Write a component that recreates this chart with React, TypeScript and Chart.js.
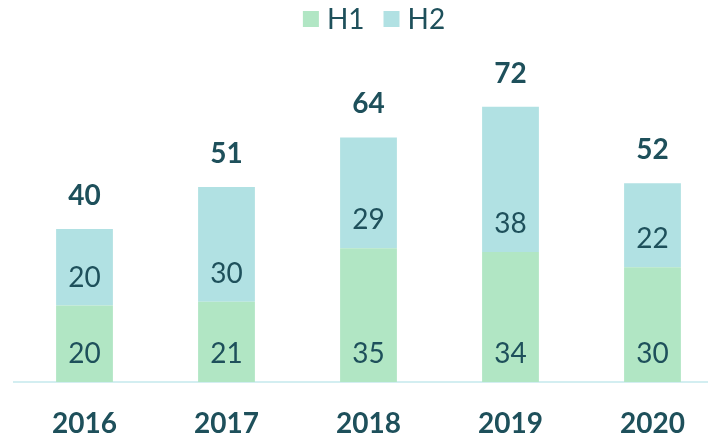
import React, { useEffect, useRef } from "react";
import { Chart, registerables } from "chart.js";

Chart.register(...registerables);

const categories = ["2016", "2017", "2018", "2019", "2020"];
const h1Values = [20, 21, 35, 34, 30];
const h2Values = [20, 30, 29, 38, 22];
const seriesNames = ["H1", "H2"];

const GREEN = "#b1e6c4";
const CYAN = "#b1e1e3";
const TEXT = "#1e505b";
const FONT = "Lato, 'Open Sans', sans-serif";

const labelPlugin = {
  id: "customLabels",
  afterDatasetsDraw(chart: any) {
    const ctx = chart.ctx;
    ctx.save();
    ctx.fillStyle = TEXT;
    ctx.textAlign = "center";
    ctx.textBaseline = "middle";
    ctx.font = `400 28px ${FONT}`;
    chart.data.datasets.forEach((ds: any, di: number) => {
      const meta = chart.getDatasetMeta(di);
      meta.data.forEach((bar: any, i: number) => {
        const p = bar.getProps(["x", "base"], true);
        ctx.fillText(String(ds.data[i]), p.x, p.base - 28);
      });
    });
    ctx.font = `700 28px ${FONT}`;
    const topMeta = chart.getDatasetMeta(chart.data.datasets.length - 1);
    topMeta.data.forEach((bar: any, i: number) => {
      const total = chart.data.datasets.reduce((s: number, d: any) => s + d.data[i], 0);
      ctx.fillText(String(total), bar.x, bar.y - 33);
    });
    // legend
    ctx.font = `400 28px ${FONT}`;
    ctx.textAlign = "left";
    const box = 16, gap = 8, spacing = 19;
    const items = chart.data.datasets.map((d: any) => ({
      label: d.label,
      color: d.backgroundColor,
      w: ctx.measureText(d.label).width,
    }));
    const totalW = items.reduce((s: number, it: any) => s + box + gap + it.w, 0) + spacing * (items.length - 1);
    let x = 374 - totalW / 2;
    items.forEach((it: any) => {
      ctx.fillStyle = it.color;
      ctx.fillRect(x, 11, box, box);
      ctx.fillStyle = TEXT;
      ctx.fillText(it.label, x + box + gap, 19.5);
      x += box + gap + it.w + spacing;
    });
    ctx.restore();
  },
};

export default function App() {
  const ref = useRef<HTMLCanvasElement | null>(null);
  useEffect(() => {
    if (!ref.current) return;
    const chart = new Chart(ref.current, {
      type: "bar",
      data: {
        labels: categories,
        datasets: [
          { label: seriesNames[0], data: h1Values, backgroundColor: GREEN, borderWidth: 0 },
          { label: seriesNames[1], data: h2Values, backgroundColor: CYAN, borderWidth: 0 },
        ],
      },
      options: {
        responsive: false,
        animation: false,
        layout: { padding: { top: 38, left: 13.5, right: 6.5, bottom: -28 } },
        datasets: { bar: { barPercentage: 0.4, categoryPercentage: 1 } },
        plugins: { legend: { display: false }, tooltip: { enabled: false } },
        scales: {
          x: {
            stacked: true,
            grid: { display: false, drawTicks: false },
            border: { display: true, color: "#d3eef1", width: 2 },
            ticks: {
              color: TEXT,
              padding: 27.5,
              font: { family: FONT, size: 28, weight: "bold", lineHeight: 1 },
            },
          },
          y: {
            stacked: true,
            display: false,
            min: 0,
            max: 90,
          },
        },
      },
      plugins: [labelPlugin],
    } as any);
    return () => chart.destroy();
  }, []);
  return (
    <div
      style={{
        position: "fixed",
        left: 0,
        top: 0,
        width: 708,
        height: 437,
        overflow: "hidden",
        background: "#fff",
      }}
    >
      <canvas ref={ref} width={730} height={437} style={{ display: "block" }} />
    </div>
  );
}
